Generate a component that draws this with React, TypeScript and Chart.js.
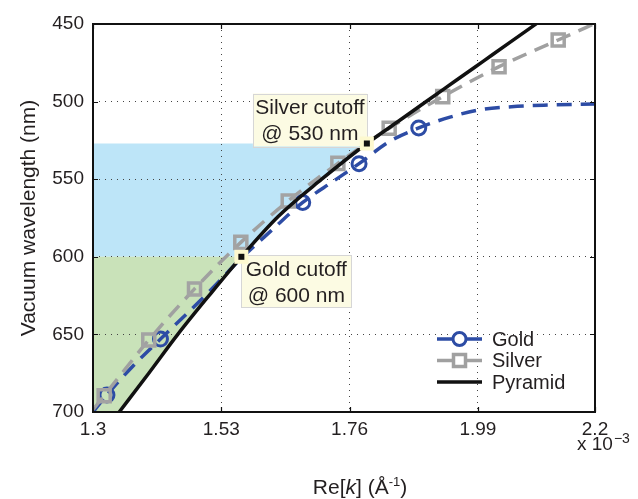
import React, { useEffect, useRef } from "react";
import { Chart, registerables } from "chart.js";

Chart.register(...registerables);

// ---------- data ----------
const xTicks = [1.3, 1.53, 1.76, 1.99, 2.2];
const xTickLabels = ["1.3", "1.53", "1.76", "1.99", "2.2"];
const yMin = 450;
const yMax = 700;
const yStep = 50;

const goldCurveK = [1.3, 1.325, 1.37, 1.421, 1.47, 1.515, 1.56, 1.62, 1.676, 1.73, 1.777, 1.83, 1.884, 1.94, 1.99, 2.05, 2.12, 2.2];
const goldCurveNm = [700, 689, 671, 653, 636, 620, 603, 583, 565, 551.5, 540, 526, 517, 510, 505.5, 503.3, 502.2, 501.5];
const goldMarkerK = [1.325, 1.421, 1.676, 1.777, 1.884];
const goldMarkerNm = [689, 653, 565, 540, 517];

const silverStart = [1.3, 698.5];
const silverEnd = [2.2, 449.6];
const silverMarkerK = [1.32, 1.4, 1.482, 1.565, 1.65, 1.739, 1.831, 1.927, 2.028, 2.134];
const silverMarkerNm = [689.5, 653.6, 620.7, 590.7, 564, 539.8, 517.2, 496.8, 477.5, 460.3];

const pyramidK = [1.347, 1.4, 1.452, 1.508, 1.566, 1.632, 1.71, 1.791, 1.845, 1.898, 1.95, 2.0, 2.05, 2.095];
const pyramidNm = [700, 675, 650, 625, 600, 574, 550, 527, 513.3, 499.8, 486.6, 473.9, 461.2, 449.8];

const silverBandNm = [527, 600];
const goldBandNm = [600, 700];

const cutoffK = [1.566, 1.791];
const cutoffNm = [600, 527];
const cutoffLabels = [
  ["Gold cutoff", "@ 600 nm"],
  ["Silver cutoff", "@ 530 nm"],
];

const seriesNames = ["Gold", "Silver", "Pyramid"];

// ---------- styles ----------
const FONT = '"Liberation Sans", Arial, Helvetica, sans-serif';
const TEXT = "#231f20";
const GOLD = "#2d4ca5";
const SILVER = "#a0a0a0";
const PYRAMID = "#111111";
const BLUE_BAND = "#bde5f8";
const GREEN_BAND = "#c9e2b9";
const NOTE_BG = "#fcfbe3";
const NOTE_BORDER = "#d6d6d6";

function interpK(nm: number): number {
  for (let i = 0; i < pyramidNm.length - 1; i++) {
    const a = pyramidNm[i];
    const b = pyramidNm[i + 1];
    if (nm <= a && nm >= b) {
      const t = (a - nm) / (a - b);
      return pyramidK[i] + t * (pyramidK[i + 1] - pyramidK[i]);
    }
  }
  return pyramidK[0];
}

const overlay = {
  id: "overlay",
  beforeDraw(chart: any) {
    const { ctx, scales } = chart;
    const x = scales.x;
    const y = scales.y;
    const band = (range: number[], color: string) => {
      const [top, bottom] = range;
      ctx.save();
      ctx.fillStyle = color;
      ctx.beginPath();
      ctx.moveTo(x.getPixelForValue(x.min), y.getPixelForValue(top));
      ctx.lineTo(x.getPixelForValue(interpK(top)), y.getPixelForValue(top));
      for (let i = pyramidNm.length - 1; i >= 0; i--) {
        const nm = pyramidNm[i];
        if (nm > top && nm < bottom) ctx.lineTo(x.getPixelForValue(pyramidK[i]), y.getPixelForValue(nm));
      }
      ctx.lineTo(x.getPixelForValue(interpK(bottom)), y.getPixelForValue(bottom));
      ctx.lineTo(x.getPixelForValue(x.min), y.getPixelForValue(bottom));
      ctx.closePath();
      ctx.fill();
      ctx.restore();
    };
    band(silverBandNm, BLUE_BAND);
    band(goldBandNm, GREEN_BAND);
  },
  afterDatasetsDraw(chart: any) {
    const { ctx, scales } = chart;
    const x = scales.x;
    const y = scales.y;
    // annotation boxes
    const boxes = [
      { dx: 0, dy: -1.5, w: 110, h: 52 },
      { dx: -114, dy: -50, w: 114, h: 53 },
    ];
    ctx.save();
    for (let i = 0; i < cutoffK.length; i++) {
      const px = x.getPixelForValue(cutoffK[i]);
      const py = y.getPixelForValue(cutoffNm[i]);
      const b = boxes[i];
      const bx = px + b.dx;
      const by = py + b.dy;
      ctx.fillStyle = NOTE_BG;
      ctx.fillRect(bx, by, b.w, b.h);
      ctx.strokeStyle = NOTE_BORDER;
      ctx.lineWidth = 1;
      ctx.strokeRect(Math.round(bx) + 0.5, Math.round(by) + 0.5, b.w, b.h);
      ctx.fillStyle = TEXT;
      ctx.font = `21px ${FONT}`;
      ctx.textAlign = "center";
      ctx.textBaseline = "middle";
      ctx.fillText(cutoffLabels[i][0], bx + b.w / 2, by + 14.5);
      ctx.fillText(cutoffLabels[i][1], bx + b.w / 2, by + 41);
    }
    for (let i = 0; i < cutoffK.length; i++) {
      const px = x.getPixelForValue(cutoffK[i]);
      const py = y.getPixelForValue(cutoffNm[i]);
      ctx.fillStyle = "#fdf9cf";
      ctx.fillRect(px - 7, py - 7, 14, 14);
      ctx.fillStyle = "#111";
      ctx.fillRect(px - 3, py - 3, 6, 6);
    }
    // legend
    const lx0 = 437;
    const lx1 = 482;
    const rows = [339, 360.5, 382];
    const colors = [GOLD, SILVER, PYRAMID];
    for (let i = 0; i < 3; i++) {
      const ry = rows[i];
      ctx.strokeStyle = colors[i];
      ctx.lineWidth = 3.5;
      ctx.setLineDash([]);
      ctx.beginPath();
      ctx.moveTo(lx0, ry);
      ctx.lineTo(lx1, ry);
      ctx.stroke();
      const cx = (lx0 + lx1) / 2;
      if (i === 0) {
        ctx.fillStyle = "#fff";
        ctx.lineWidth = 3;
        ctx.beginPath();
        ctx.arc(cx, ry, 6.5, 0, Math.PI * 2);
        ctx.fill();
        ctx.stroke();
      } else if (i === 1) {
        ctx.fillStyle = "#fff";
        ctx.lineWidth = 3.5;
        ctx.fillRect(cx - 6, ry - 6, 12, 12);
        ctx.strokeRect(cx - 6, ry - 6, 12, 12);
      }
      ctx.fillStyle = TEXT;
      ctx.font = `20px ${FONT}`;
      ctx.textAlign = "left";
      ctx.textBaseline = "middle";
      ctx.fillText(seriesNames[i], 492, ry + 1);
    }
    ctx.restore();
  },
  afterDraw(chart: any) {
    const { ctx, chartArea, scales } = chart;
    const x = scales.x;
    const y = scales.y;
    const { left, right, top, bottom } = chartArea;
    ctx.save();
    // inner tick marks
    ctx.strokeStyle = "#111";
    ctx.lineWidth = 1.2;
    ctx.beginPath();
    for (const t of xTicks) {
      const px = Math.round(x.getPixelForValue(t)) + 0.5;
      ctx.moveTo(px, bottom);
      ctx.lineTo(px, bottom - 5);
      ctx.moveTo(px, top);
      ctx.lineTo(px, top + 5);
    }
    for (let v = yMin; v <= yMax; v += yStep) {
      const py = Math.round(y.getPixelForValue(v)) + 0.5;
      ctx.moveTo(left, py);
      ctx.lineTo(left + 5, py);
      ctx.moveTo(right, py);
      ctx.lineTo(right - 5, py);
    }
    ctx.stroke();
    // frame
    ctx.strokeStyle = "#111";
    ctx.lineWidth = 2;
    ctx.strokeRect(left, top, right - left, bottom - top);

    // exponent label
    ctx.fillStyle = TEXT;
    ctx.textAlign = "left";
    ctx.textBaseline = "alphabetic";
    ctx.font = `19px ${FONT}`;
    ctx.fillText("x 10", 577, 450);
    const w10 = ctx.measureText("x 10").width;
    ctx.font = `14px ${FONT}`;
    ctx.fillText("\u22123", 577 + w10 + 1, 443);

    // x axis title: Re[k] (Å^-1)
    const parts = [
      { t: "Re[", f: `21px ${FONT}`, dy: 0 },
      { t: "k", f: `italic 21px ${FONT}`, dy: 0 },
      { t: "] (Å", f: `21px ${FONT}`, dy: 0 },
      { t: "-1", f: `13px ${FONT}`, dy: -8 },
      { t: ")", f: `21px ${FONT}`, dy: 0 },
    ];
    let total = 0;
    for (const p of parts) {
      ctx.font = p.f;
      total += ctx.measureText(p.t).width;
    }
    let cx = 360 - total / 2;
    for (const p of parts) {
      ctx.font = p.f;
      ctx.fillText(p.t, cx, 494 + p.dy);
      cx += ctx.measureText(p.t).width;
    }

    // y axis title
    ctx.translate(35, 218);
    ctx.rotate(-Math.PI / 2);
    ctx.textAlign = "center";
    ctx.font = `21px ${FONT}`;
    ctx.fillText("Vacuum wavelength (nm)", 0, 0);
    ctx.restore();
  },
};

export default function App() {
  const ref = useRef<HTMLCanvasElement>(null);
  useEffect(() => {
    const canvas = ref.current;
    if (!canvas) return;
    const goldLine = goldCurveK.map((k, i) => ({ x: k, y: goldCurveNm[i] }));
    const goldMarkers = goldMarkerK.map((k, i) => ({ x: k, y: goldMarkerNm[i] }));
    const silverLine = [
      { x: silverStart[0], y: silverStart[1] },
      ...silverMarkerK.map((k, i) => ({ x: k, y: silverMarkerNm[i] })),
      { x: silverEnd[0], y: silverEnd[1] },
    ];
    const pyramidLine = pyramidK.map((k, i) => ({ x: k, y: pyramidNm[i] }));
    const lastSilver = silverLine.length - 1;

    const chart = new Chart(canvas, {
      type: "line",
      data: {
        datasets: [
          {
            label: seriesNames[2],
            data: pyramidLine,
            borderColor: PYRAMID,
            borderWidth: 3.5,
            pointRadius: 0,
            cubicInterpolationMode: "monotone",
            fill: false,
          },
          {
            label: seriesNames[1],
            data: silverLine,
            borderColor: SILVER,
            borderWidth: 3.5,
            borderDash: [15, 9],
            pointStyle: "rect",
            pointRadius: (c: any) => (c.dataIndex === 0 || c.dataIndex === lastSilver ? 0 : 8.5),
            pointBorderWidth: 3.5,
            pointBorderColor: "#a3a3a3",
            pointBackgroundColor: "rgba(0,0,0,0)",
            cubicInterpolationMode: "monotone",
            fill: false,
          },
          {
            label: seriesNames[0] + " markers",
            data: goldMarkers,
            showLine: false,
            pointStyle: "circle",
            pointRadius: 7,
            pointBorderWidth: 3,
            pointBorderColor: GOLD,
            pointBackgroundColor: "rgba(0,0,0,0)",
          },
          {
            label: seriesNames[0],
            data: goldLine,
            borderColor: GOLD,
            borderWidth: 3.5,
            borderDash: [15, 9],
            pointRadius: 0,
            cubicInterpolationMode: "monotone",
            fill: false,
          },
        ],
      },
      options: {
        responsive: false,
        animation: false,
        devicePixelRatio: 1,
        layout: { padding: { top: 24, right: 43, left: 0, bottom: 0 } },
        plugins: {
          legend: { display: false },
          tooltip: { enabled: false },
        },
        scales: {
          x: {
            type: "linear",
            min: 1.3,
            max: 2.2,
            afterBuildTicks: (scale: any) => {
              scale.ticks = xTicks.map((v) => ({ value: v }));
            },
            afterFit: (scale: any) => {
              scale.height = 87;
            },
            ticks: {
              callback: (_v: any, i: number) => xTickLabels[i],
              font: { family: FONT, size: 19 },
              color: TEXT,
              padding: 6,
              maxRotation: 0,
              autoSkip: false,
            },
            grid: { color: "#444", lineWidth: 1, drawTicks: false },
            border: { display: false, dash: [1, 5] },
          },
          y: {
            type: "linear",
            reverse: true,
            min: yMin,
            max: yMax,
            afterFit: (scale: any) => {
              scale.width = 93;
            },
            ticks: {
              stepSize: yStep,
              font: { family: FONT, size: 19 },
              color: TEXT,
              padding: 9,
            },
            grid: { color: "#444", lineWidth: 1, drawTicks: false },
            border: { display: false, dash: [1, 5] },
          },
        },
      },
      plugins: [overlay],
    } as any);
    return () => chart.destroy();
  }, []);
  return (
    <div style={{ position: "absolute", left: 0, top: 0, width: 638, height: 499 }}>
      <canvas ref={ref} width={638} height={499} style={{ display: "block", width: 638, height: 499 }} />
    </div>
  );
}
